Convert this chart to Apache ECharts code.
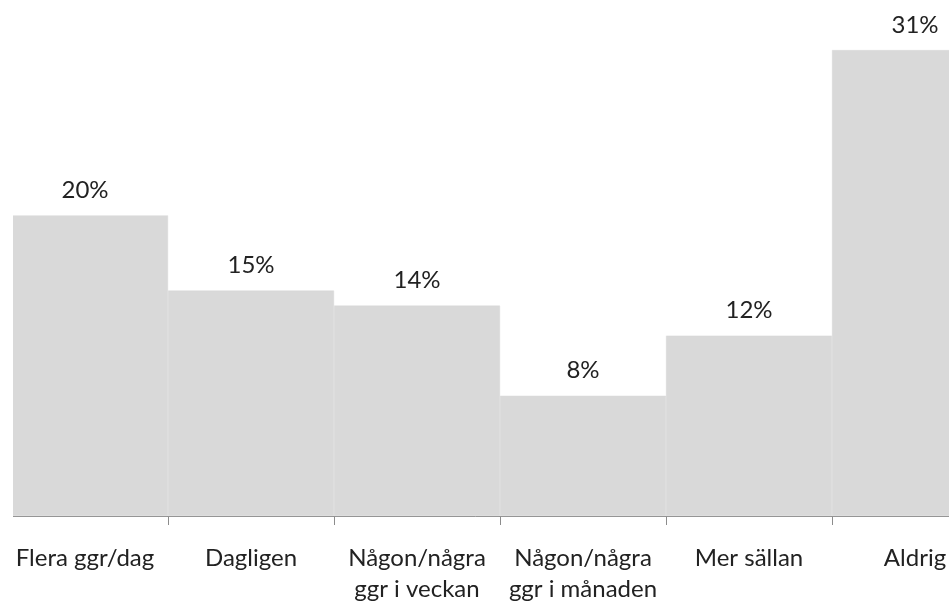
<!DOCTYPE html>
<html>
<head>
<meta charset="utf-8">
<script src="https://cdn.jsdelivr.net/npm/echarts@6/dist/echarts.min.js"></script>
<style>
  html, body { margin: 0; padding: 0; background: #fff; }
  #main { width: 949px; height: 603px; }
</style>
</head>
<body>
<div id="main"></div>
<script>
// kategorier och andelar (%)
var categories = ['Flera ggr/dag', 'Dagligen', 'Någon/några\nggr i veckan', 'Någon/några\nggr i månaden', 'Mer sällan', 'Aldrig'];
var values = [20, 15, 14, 8, 12, 31];

var myChart = echarts.init(document.getElementById('main'));

var option = {
    animation: false,
    grid: {
        left: 2,
        top: 5,
        width: 996,
        bottom: 87,
        outerBoundsMode: 'none'
    },
    xAxis: {
        type: 'category',
        data: categories,
        axisLine: { lineStyle: { color: '#8c8c8c', width: 1 } },
        axisTick: { show: true, length: 9, lineStyle: { color: '#8c8c8c' } },
        axisLabel: {
            interval: 0,
            margin: 27,
            fontFamily: 'Lato',
            fontSize: 24,
            lineHeight: 31,
            color: '#222'
        }
    },
    yAxis: {
        type: 'value',
        min: 0,
        max: 34,
        show: false,
        splitLine: { show: false }
    },
    series: [
        {
            type: 'bar',
            data: values,
            barCategoryGap: '0%',
            itemStyle: { color: '#d9d9d9', borderColor: '#d9d9d9', borderWidth: 0.5 },
            label: {
                show: true,
                position: 'top',
                distance: 13,
                formatter: '{c}%',
                fontFamily: 'Lato',
                fontSize: 24,
                color: '#222'
            }
        }
    ],
    // vit kant till vänster (diagrammet är beskuret)
    graphic: [
        {
            type: 'rect',
            left: 0,
            top: 0,
            shape: { width: 13, height: 530 },
            style: { fill: '#fff' },
            z: 100
        }
    ]
};

myChart.setOption(option);
</script>
</body>
</html>
